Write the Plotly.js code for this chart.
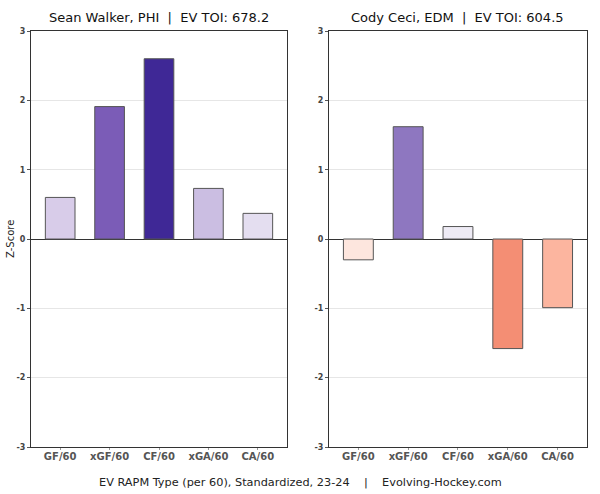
<!DOCTYPE html>
<html><head><meta charset="utf-8">
<script src="https://cdn.plot.ly/plotly-3.0.1.min.js"></script>
<style>html,body{margin:0;padding:0;background:#fff;}#chart{width:600px;height:494px;}</style>
</head><body><div id="chart"></div>
<script>
const categories = ["GF/60", "xGF/60", "CF/60", "xGA/60", "CA/60"];
const walkerValues = [0.60, 1.91, 2.60, 0.73, 0.37];
const ceciValues = [-0.30, 1.62, 0.18, -1.58, -0.99];
const walkerColors = ["#d8cce9", "#7b5cb7", "#3f2896", "#cbbee2", "#e4def0"];
const ceciColors = ["#fde6de", "#8e77c0", "#eeebf5", "#f48e74", "#fcb59f"];
const walkerTitle = "Sean Walker, PHI  |  EV TOI: 678.2";
const ceciTitle = "Cody Ceci, EDM  |  EV TOI: 604.5";
const xTitle = "EV RAPM Type (per 60), Standardized, 23-24    |    Evolving-Hockey.com";
const yTitle = "Z-Score";
const yTicks = [-3, -2, -1, 0, 1, 2, 3];

const font = "DejaVu Sans, sans-serif";
function trace(vals, colors, xa, ya) {
  return {type: "bar", x: categories, y: vals, xaxis: xa, yaxis: ya,
    marker: {color: colors, line: {color: "#555555", width: 1}},
    width: 0.6, hoverinfo: "skip", showlegend: false};
}
function yax(anchor) {
  return {domain: [0.0951, 0.9372], range: [-3, 3], anchor: anchor,
    tickvals: yTicks, ticktext: yTicks.map(String), ticks: "outside", ticklen: 3, tickcolor: "#555",
    tickfont: {family: font, size: 8, color: "#444", weight: "bold"},
    showgrid: true, gridcolor: "#e6e6e6", gridwidth: 1,
    zeroline: true, zerolinecolor: "#333", zerolinewidth: 1,
    showline: true, linecolor: "#333", linewidth: 1, mirror: true, fixedrange: true};
}
function xax(domain, anchor) {
  return {domain: domain, anchor: anchor, type: "category", range: [-0.59, 4.59],
    tickfont: {family: font, size: 10, color: "#555", weight: "bold"},
    ticks: "outside", ticklen: 2, tickcolor: "#999", ticklabelstandoff: -2, showgrid: false,
    showline: true, linecolor: "#333", linewidth: 1, mirror: true, fixedrange: true};
}
const layout = {
  width: 600, height: 494, margin: {l: 0, r: 0, t: 0, b: 0},
  paper_bgcolor: "#fff", plot_bgcolor: "#fff",
  xaxis: xax([0.0517, 0.4783], "y"),
  yaxis: yax("x"),
  xaxis2: xax([0.5483, 0.9783], "y2"),
  yaxis2: yax("x2"),
  bargap: 0.4,
  annotations: [
    {text: walkerTitle, xref: "paper", yref: "paper", x: 0.265, y: 1 - 17/494, showarrow: false,
     font: {family: font, size: 13, color: "#111"}, xanchor: "center", yanchor: "middle"},
    {text: ceciTitle, xref: "paper", yref: "paper", x: 0.763, y: 1 - 17/494, showarrow: false,
     font: {family: font, size: 13, color: "#111"}, xanchor: "center", yanchor: "middle"},
    {text: xTitle, xref: "paper", yref: "paper", x: 0.5, y: 1 - 482/494, showarrow: false,
     font: {family: font, size: 11.3, color: "#222"}, xanchor: "center", yanchor: "middle"},
    {text: yTitle, xref: "paper", yref: "paper", x: 10/600, y: 1 - 239/494, showarrow: false, textangle: -90,
     font: {family: font, size: 10, color: "#222"}, xanchor: "center", yanchor: "middle"}
  ]
};
Plotly.newPlot("chart", [trace(walkerValues, walkerColors, "x", "y"), trace(ceciValues, ceciColors, "x2", "y2")], layout, {displayModeBar: false, staticPlot: true});
</script></body></html>
